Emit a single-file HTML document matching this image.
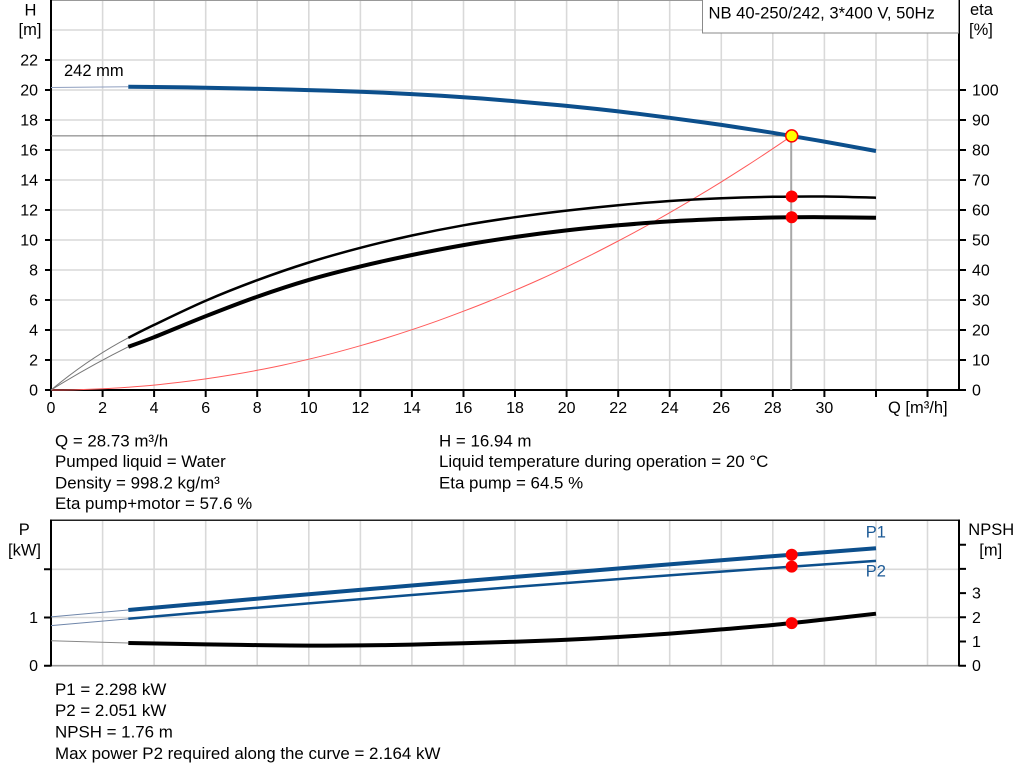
<!DOCTYPE html>
<html><head><meta charset="utf-8"><style>
html,body{margin:0;padding:0;background:#fff;}
svg{display:block;font-family:"Liberation Sans",Arial,sans-serif;}
</style></head><body>
<svg id="chart" width="1024" height="781" viewBox="0 0 1024 781" xmlns="http://www.w3.org/2000/svg">
<rect x="0" y="0" width="1024" height="781" fill="#fff"/>
<!-- upper grid -->
<g stroke="#d9d9d9" stroke-width="1.6">
<path d="M102.6 0V390M154.1 0V390M205.7 0V390M257.2 0V390M308.8 0V390M360.4 0V390M411.9 0V390M463.5 0V390M515 0V390M566.6 0V390M618.2 0V390M669.7 0V390M721.3 0V390M772.8 0V390M824.4 0V390M876 0V390M927.5 0V390"/>
<path d="M51 30H959M51 60H959M51 90H959M51 120H959M51 150H959M51 180H959M51 210H959M51 240H959M51 270H959M51 300H959M51 330H959M51 360H959"/>
</g>
<line x1="51" y1="0.5" x2="959" y2="0.5" stroke="#999" stroke-width="1"/>
<!-- lower grid -->
<g stroke="#d9d9d9" stroke-width="1.6">
<path d="M102.6 520V666M154.1 520V666M205.7 520V666M257.2 520V666M308.8 520V666M360.4 520V666M411.9 520V666M463.5 520V666M515 520V666M566.6 520V666M618.2 520V666M669.7 520V666M721.3 520V666M772.8 520V666M824.4 520V666M876 520V666M927.5 520V666"/>
<path d="M51 569.3H959M51 617.5H959"/>
</g>
<!-- upper axes -->
<g stroke="#000" stroke-width="2" fill="none">
<path d="M51 0V391M959 0V391M50 390H960"/>
<path d="M45 60H51M45 90H51M45 120H51M45 150H51M45 180H51M45 210H51M45 240H51M45 270H51M45 300H51M45 330H51M45 360H51M45 390H51"/>
<path d="M959 90H966M959 120H966M959 150H966M959 180H966M959 210H966M959 240H966M959 270H966M959 300H966M959 330H966M959 360H966M959 390H966"/>
<path d="M51 390V397M102.6 390V397M154.1 390V397M205.7 390V397M257.2 390V397M308.8 390V397M360.4 390V397M411.9 390V397M463.5 390V397M515 390V397M566.6 390V397M618.2 390V397M669.7 390V397M721.3 390V397M772.8 390V397M824.4 390V397M876 390V397M927.5 390V397"/>
</g>
<!-- lower axes -->
<line x1="51" y1="665.7" x2="959" y2="665.7" stroke="#999" stroke-width="1.6"/>
<line x1="51" y1="520.3" x2="959" y2="520.3" stroke="#222" stroke-width="1.5"/>
<g stroke="#000" stroke-width="2" fill="none">
<path d="M51 519.5V666.5M959 519.5V666.5"/>
<path d="M44 569.3H51M44 617.5H51M44 665.7H51"/>
<path d="M959 544.7H966M959 568.9H966M959 593.1H966M959 617.3H966M959 641.5H966M959 665.7H966"/>
</g>
<!-- title box -->
<rect x="702.5" y="-1" width="256" height="34" fill="#fff" stroke="#8a8a8a" stroke-width="1"/>
<text x="708.5" y="18.5" font-size="16.6" fill="#000">NB 40-250/242, 3*400 V, 50Hz</text>
<!-- axis titles -->
<g font-size="16.5" fill="#000">
<text x="30.5" y="15.5" text-anchor="middle">H</text>
<text x="30" y="35" text-anchor="middle">[m]</text>
<text x="970" y="15">eta</text>
<text x="969" y="35">[%]</text>
<text x="888" y="413">Q [m³/h]</text>
<text x="64" y="76">242 mm</text>
<text x="24.3" y="535" text-anchor="middle">P</text>
<text x="24.5" y="555.5" text-anchor="middle">[kW]</text>
<text x="968.3" y="535">NPSH</text>
<text x="979.3" y="555.5">[m]</text>
<text x="865.7" y="537.3" fill="#1c5a96">P1</text>
<text x="865.7" y="576.7" fill="#1c5a96">P2</text>
</g>
<!-- tick labels -->
<g font-size="16" fill="#000" text-anchor="end">
<text x="38" y="65.5">22</text><text x="38" y="95.5">20</text><text x="38" y="125.5">18</text><text x="38" y="155.5">16</text><text x="38" y="185.5">14</text><text x="38" y="215.5">12</text><text x="38" y="245.5">10</text><text x="38" y="275.5">8</text><text x="38" y="305.5">6</text><text x="38" y="335.5">4</text><text x="38" y="365.5">2</text><text x="38" y="395.5">0</text>
<text x="38" y="623">1</text><text x="38" y="671.2">0</text>
</g>
<g font-size="16" fill="#000">
<text x="972" y="95.5">100</text><text x="972" y="125.5">90</text><text x="972" y="155.5">80</text><text x="972" y="185.5">70</text><text x="972" y="215.5">60</text><text x="972" y="245.5">50</text><text x="972" y="275.5">40</text><text x="972" y="305.5">30</text><text x="972" y="335.5">20</text><text x="972" y="365.5">10</text><text x="972" y="395.5">0</text>
<text x="972" y="598.6">3</text><text x="972" y="622.8">2</text><text x="972" y="647">1</text><text x="972" y="671.2">0</text>
</g>
<g font-size="16" fill="#000" text-anchor="middle">
<text x="51" y="413">0</text><text x="102.6" y="413">2</text><text x="154.1" y="413">4</text><text x="205.7" y="413">6</text><text x="257.2" y="413">8</text><text x="308.8" y="413">10</text><text x="360.4" y="413">12</text><text x="411.9" y="413">14</text><text x="463.5" y="413">16</text><text x="515" y="413">18</text><text x="566.6" y="413">20</text><text x="618.2" y="413">22</text><text x="669.7" y="413">24</text><text x="721.3" y="413">26</text><text x="772.8" y="413">28</text><text x="824.4" y="413">30</text>
</g>
<!-- operating lines -->
<line x1="51" y1="135.9" x2="791.7" y2="135.9" stroke="#707070" stroke-width="1"/>
<line x1="791.2" y1="135.9" x2="791.2" y2="390" stroke="#a8a8a8" stroke-width="2"/>
<!-- red system curve -->
<polyline class="s" fill="none" stroke="#ff5a5a" stroke-width="1" points="51,390 76.8,389.7 102.6,388.8 128.3,387.2 154.1,385.1 179.9,382.3 205.7,378.9 231.5,374.9 257.2,370.3 283,365.1 308.8,359.2 334.6,352.8 360.4,345.7 386.2,338.0 411.9,329.7 437.7,320.8 463.5,311.2 489.3,301.1 515,290.3 540.8,279.0 566.6,266.9 592.4,254.3 618.2,241 644,227.2 669.7,212.7 695.5,197.6 721.3,181.9 747.1,165.6 772.8,148.7 791.7,135.9"/>
<!-- thin extensions -->
<g fill="none" stroke-width="1">
<path d="M51 87.5L128.3 86.7" stroke="#8f9fbf"/>
<path d="M51 390Q89.7 358 128.3 337.8" stroke="#777"/>
<path d="M51 390Q89.7 366 128.3 346.8" stroke="#777"/>
<path d="M51 616.9L128.3 610" stroke="#6f86aa"/>
<path d="M51 625.6L128.3 618.8" stroke="#6f86aa"/>
<path d="M51 640.8L128.3 643" stroke="#888"/>
</g>
<!-- main curves -->
<g fill="none" stroke-linejoin="round">
<polyline class="s" stroke="#0c4f8c" stroke-width="4" points="128.3,86.7 154.1,87 205.7,87.7 257.2,88.8 308.8,90.1 360.4,91.7 411.9,94.1 463.5,97.2 515,101.2 566.6,105.9 618.2,111.4 669.7,117.8 721.3,124.9 772.8,132.8 824.4,141.6 876,151"/>
<polyline class="s" stroke="#000" stroke-width="2.5" points="128.3,337.8 154.1,324.9 205.7,300.75 257.2,280.2 308.8,262.5 360.4,247.8 411.9,235.5 463.5,225.3 515,217.2 566.6,210.6 618.2,205.2 669.7,201.0 721.3,198.3 772.8,196.8 824.4,196.5 876,197.7"/>
<polyline class="s" stroke="#000" stroke-width="4" points="128.3,346.8 154.1,337.2 205.7,316.2 257.2,296.7 308.8,279.9 360.4,266.4 411.9,255.0 463.5,245.1 515,237.0 566.6,230.4 618.2,225.3 669.7,221.4 721.3,219.0 772.8,217.5 824.4,217.2 876,217.8"/>
<polyline class="s" stroke="#0c4f8c" stroke-width="4" points="128.3,610 205.7,603.2 308.8,594.2 411.9,585.5 515,576.9 618.2,568.5 721.3,560.2 824.4,552.2 876,548.2"/>
<polyline class="s" stroke="#0c4f8c" stroke-width="2.5" points="128.3,618.8 205.7,612.1 308.8,603.4 411.9,595 515,586.9 618.2,579.1 721.3,571.6 824.4,564.4 876,560.9"/>
<polyline class="s" stroke="#000" stroke-width="4" points="128.3,643 205.7,644.4 257.2,645.1 308.8,645.6 360.4,645.4 411.9,644.6 463.5,643.2 515,641.7 566.6,639.8 618.2,637 669.7,633.6 721.3,629.4 772.8,625 824.4,619.5 876,613.7"/>
</g>
<!-- dots -->
<g fill="#ff0000">
<circle cx="791.7" cy="196.5" r="6"/>
<circle cx="791.7" cy="217.2" r="6"/>
<circle cx="791.7" cy="554.7" r="6"/>
<circle cx="791.7" cy="566.6" r="6"/>
<circle cx="791.7" cy="623.1" r="6"/>
</g>
<circle cx="791.7" cy="135.9" r="6" fill="#ffff00" stroke="#ff0000" stroke-width="1.5"/>
<!-- info text -->
<g font-size="16.9" fill="#000">
<text x="55" y="446.5">Q = 28.73 m³/h</text>
<text x="55" y="467">Pumped liquid = Water</text>
<text x="55" y="488.5">Density = 998.2 kg/m³</text>
<text x="55" y="509">Eta pump+motor = 57.6 %</text>
<text x="439" y="446.5">H = 16.94 m</text>
<text x="439" y="467">Liquid temperature during operation = 20 °C</text>
<text x="439" y="488.5">Eta pump = 64.5 %</text>
<text x="55" y="695">P1 = 2.298 kW</text>
<text x="55" y="716">P2 = 2.051 kW</text>
<text x="55" y="737.3">NPSH = 1.76 m</text>
<text x="55" y="759">Max power P2 required along the curve = 2.164 kW</text>
</g>
</svg>
<script>
(function(){
  var ns="http://www.w3.org/2000/svg";
  var pls=document.querySelectorAll("polyline.s");
  for(var k=0;k<pls.length;k++){
    var pl=pls[k];
    var raw=pl.getAttribute("points").trim().split(/\s+/);
    var p=raw.map(function(s){var a=s.split(",");return [parseFloat(a[0]),parseFloat(a[1])];});
    var d="M"+p[0][0]+" "+p[0][1];
    for(var i=0;i<p.length-1;i++){
      var p0=p[i-1]||p[i],p1=p[i],p2=p[i+1],p3=p[i+2]||p[i+1];
      var c1x=p1[0]+(p2[0]-p0[0])/6,c1y=p1[1]+(p2[1]-p0[1])/6;
      var c2x=p2[0]-(p3[0]-p1[0])/6,c2y=p2[1]-(p3[1]-p1[1])/6;
      d+="C"+c1x.toFixed(2)+" "+c1y.toFixed(2)+" "+c2x.toFixed(2)+" "+c2y.toFixed(2)+" "+p2[0]+" "+p2[1];
    }
    var path=document.createElementNS(ns,"path");
    path.setAttribute("d",d);
    path.setAttribute("fill","none");
    path.setAttribute("stroke",pl.getAttribute("stroke"));
    path.setAttribute("stroke-width",pl.getAttribute("stroke-width"));
    path.setAttribute("stroke-linejoin","round");
    pl.parentNode.replaceChild(path,pl);
  }
})();
</script>
</body></html>
